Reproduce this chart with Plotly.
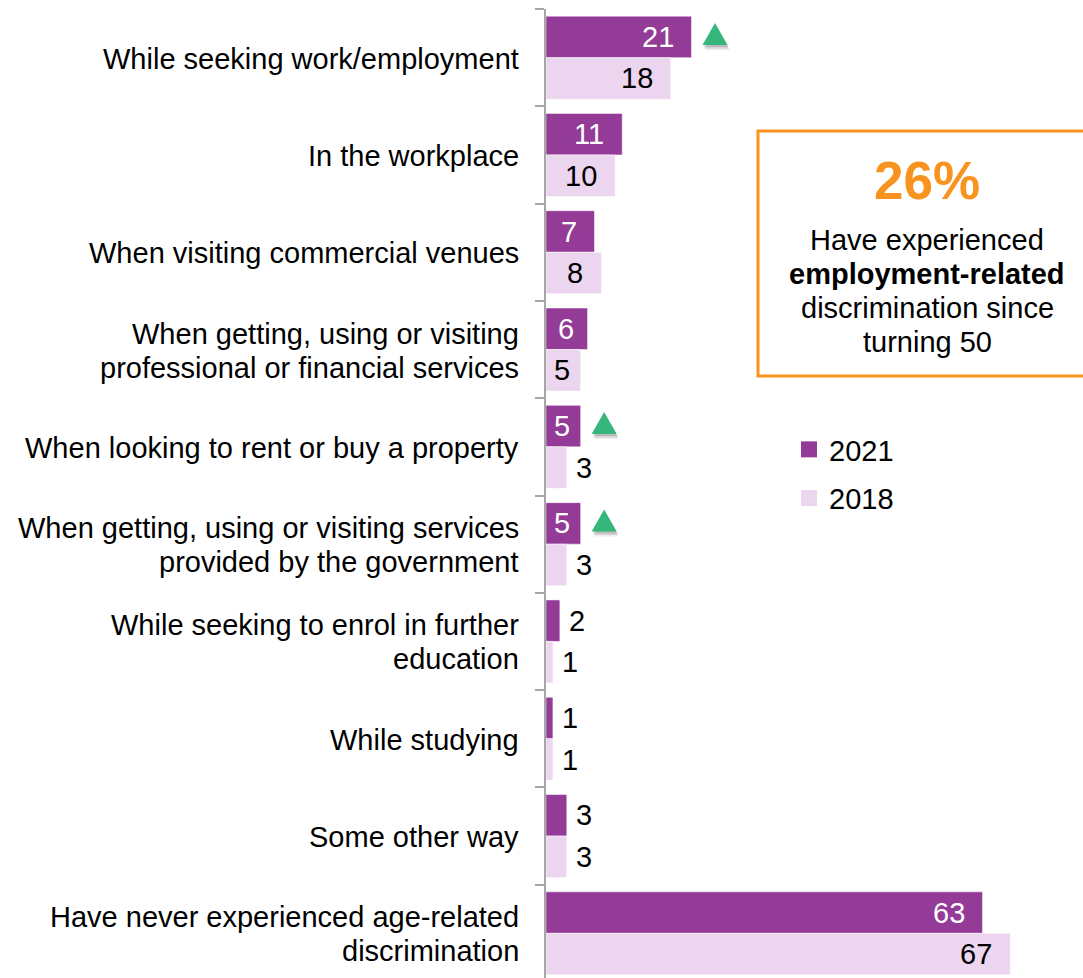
import plotly.graph_objects as go

# Survey data: where people aged 50+ experienced age-related discrimination (%)
categories = [
    "While seeking work/employment",
    "In the workplace",
    "When visiting commercial venues",
    "When getting, using or visiting\nprofessional or financial services",
    "When looking to rent or buy a property",
    "When getting, using or visiting services\nprovided by the government",
    "While seeking to enrol in further\neducation",
    "While studying",
    "Some other way",
    "Have never experienced age-related\ndiscrimination",
]
values_2021 = [21, 11, 7, 6, 5, 5, 2, 1, 3, 63]
values_2018 = [18, 10, 8, 5, 3, 3, 1, 1, 3, 67]
# Significant increase since 2018
increase_flags = [True, False, False, False, True, True, False, False, False, False]

series_names = ["2021", "2018"]
callout_value = "26%"
callout_lines = [
    "Have experienced",
    "<b>employment-related</b>",
    "discrimination since",
    "turning 50",
]

# Styling
PURPLE = "#933b97"
PINK = "#ecd5ee"
GREEN = "#35b77b"
ORANGE = "#f7931e"
AXIS_GREY = "#a6a6a6"
FONT = "Liberation Sans, Arial, sans-serif"
FS = 29

W, H = 1083, 978
M_L, M_T = 546, 9
PLOT_W = W - M_L
PLOT_H = H - M_T
X_MAX = 77.5
PX_PER_UNIT = PLOT_W / X_MAX
BAND_PX = 97.3
Y_TOP = -0.5
Y_BOTTOM = Y_TOP + PLOT_H / BAND_PX
BARGAP = 0.147
HALF = (1 - BARGAP) / 4  # centre offset of each bar within its band

n = len(categories)
idx = list(range(n))

fig = go.Figure()
fig.add_trace(go.Bar(
    y=idx, x=values_2021, orientation="h", name=series_names[0],
    marker=dict(color=PURPLE, line=dict(color="rgba(255,255,255,0.5)", width=1)),
    showlegend=False, hoverinfo="skip",
))
fig.add_trace(go.Bar(
    y=idx, x=values_2018, orientation="h", name=series_names[1],
    marker=dict(color=PINK, line=dict(color="rgba(255,255,255,0.5)", width=1)),
    showlegend=False, hoverinfo="skip",
))

# Legend entries with larger square swatches
for name, col in zip(series_names, [PURPLE, PINK]):
    fig.add_trace(go.Scatter(
        x=[None], y=[None], mode="markers", name=name, legendgroup=name,
        marker=dict(symbol="square", size=16, color=col),
    ))

shapes = []


def triangle_path(dx, dy):
    # Up-pointing triangle placed just past the bar end (pixel units, y up)
    x0, x1 = 11 + dx, 36 + dx
    xm = (x0 + x1) / 2
    yb, yt = -8 + dy, 14 + dy
    return f"M {x0},{yb} L {x1},{yb} L {xm},{yt} Z"


# Increase markers with a soft drop shadow
for i, (v, flag) in enumerate(zip(values_2021, increase_flags)):
    if not flag:
        continue
    for dx, dy, col in [(2, -5, "rgba(0,0,0,0.07)"), (1.5, -3.5, "rgba(0,0,0,0.10)"),
                        (1, -2, "rgba(0,0,0,0.12)"), (0, 0, GREEN)]:
        shapes.append(dict(
            type="path", xref="x", yref="y", xsizemode="pixel", ysizemode="pixel",
            xanchor=v, yanchor=i - HALF, path=triangle_path(dx, dy),
            fillcolor=col, line=dict(width=0), layer="above",
        ))

annotations = []

# Value labels
DIGIT_W = 0.556 * FS
for vals, off, inside_col in [(values_2021, -HALF, "white"), (values_2018, HALF, "black")]:
    for i, v in enumerate(vals):
        txt = str(v)
        bar_px = v * PX_PER_UNIT
        lab_w = len(txt) * DIGIT_W
        if v >= 5:
            pad = min(17, (bar_px - lab_w) / 2)
            annotations.append(dict(
                x=v, y=i + off, xref="x", yref="y", text=txt, showarrow=False,
                xanchor="right", yanchor="middle", xshift=-pad + 1,
                font=dict(family=FONT, size=FS, color=inside_col),
            ))
        else:
            annotations.append(dict(
                x=v, y=i + off, xref="x", yref="y", text=txt, showarrow=False,
                xanchor="left", yanchor="middle", xshift=7,
                font=dict(family=FONT, size=FS, color="black"),
            ))

# Category labels (right-aligned, left of the axis)
LINE_PX = 34
for i, cat in enumerate(categories):
    lines = cat.split("\n")
    k = len(lines)
    for j, line in enumerate(lines):
        annotations.append(dict(
            x=0, y=i, xref="paper", yref="y", text=line, showarrow=False,
            xanchor="right", yanchor="middle", xshift=-25,
            yshift=-((j - (k - 1) / 2) * LINE_PX) - 1,
            font=dict(family=FONT, size=FS, color="black"),
        ))


def px_x(px):
    return (px - M_L) / PLOT_W


def px_y(py):
    return 1 - (py - M_T) / PLOT_H


# Callout box
BOX_L, BOX_R, BOX_T, BOX_B = 758, 1096, 131, 376
BOX_CX = (BOX_L + BOX_R) / 2
shapes.append(dict(
    type="rect", xref="paper", yref="paper",
    x0=px_x(BOX_L), x1=px_x(BOX_R), y0=px_y(BOX_B), y1=px_y(BOX_T),
    line=dict(color=ORANGE, width=3), fillcolor="white", layer="below",
))
annotations.append(dict(
    x=px_x(BOX_CX), y=px_y(181), xref="paper", yref="paper", text=f"<b>{callout_value}</b>",
    showarrow=False, xanchor="center", yanchor="middle",
    font=dict(family=FONT, size=53, color=ORANGE),
))
for j, line in enumerate(callout_lines):
    annotations.append(dict(
        x=px_x(BOX_CX), y=px_y(240 + 34 * j), xref="paper", yref="paper", text=line,
        showarrow=False, xanchor="center", yanchor="middle",
        font=dict(family=FONT, size=FS, color="black"),
    ))

fig.update_layout(
    width=W, height=H,
    margin=dict(l=M_L, r=0, t=M_T, b=0, pad=0, autoexpand=False),
    paper_bgcolor="white", plot_bgcolor="white",
    barmode="group", bargap=BARGAP, bargroupgap=0,
    font=dict(family=FONT, size=FS, color="black"),
    xaxis=dict(range=[0, X_MAX], visible=False, fixedrange=True),
    yaxis=dict(
        range=[Y_BOTTOM, Y_TOP], showgrid=False, zeroline=False,
        showline=True, linecolor=AXIS_GREY, linewidth=1.5,
        tickvals=[i - 0.5 for i in idx], ticks="outside", ticklen=9,
        tickcolor=AXIS_GREY, tickwidth=1.5, showticklabels=False, fixedrange=True,
    ),
    showlegend=True,
    legend=dict(
        x=px_x(789), y=px_y(424), xanchor="left", yanchor="top",
        font=dict(family=FONT, size=FS, color="black"),
        traceorder="grouped", tracegroupgap=8, bgcolor="rgba(0,0,0,0)",
        itemclick=False, itemdoubleclick=False,
    ),
    shapes=shapes,
    annotations=annotations,
)

fig.write_html("out.html", config={"displayModeBar": False})
